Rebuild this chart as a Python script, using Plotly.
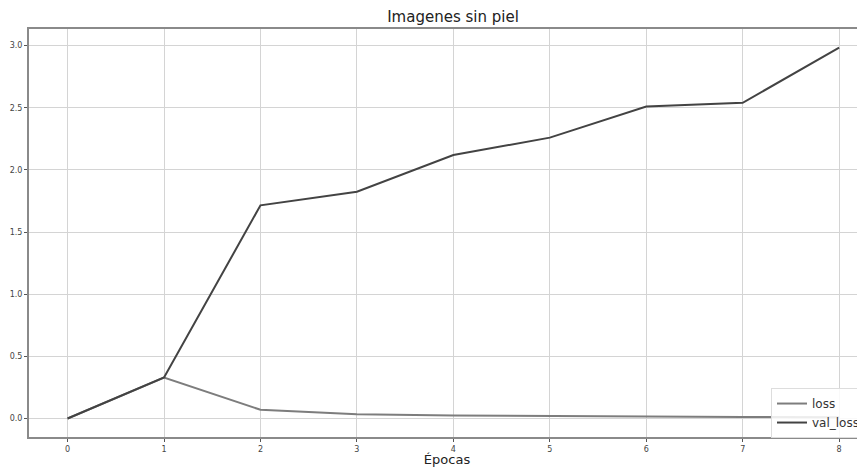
import plotly.graph_objects as go

epochs = [0, 1, 2, 3, 4, 5, 6, 7, 8]
loss = [0.0, 0.33, 0.07, 0.035, 0.025, 0.018, 0.015, 0.012, 0.01]
val_loss = [0.0, 0.33, 1.715, 1.825, 2.12, 2.26, 2.51, 2.54, 2.985]
x_ticks = [0, 1, 2, 3, 4, 5, 6, 7, 8]
y_ticks = [0.0, 0.5, 1.0, 1.5, 2.0, 2.5, 3.0]

# page body has an 8px default margin, so the figure is 857x459
W, H = 857, 459

fig = go.Figure()
fig.add_trace(go.Scatter(x=epochs, y=loss, mode="lines", name="loss",
                         line=dict(color="#7d7d7d", width=2)))
fig.add_trace(go.Scatter(x=epochs, y=val_loss, mode="lines", name="val_loss",
                         line=dict(color="#434343", width=2)))

fig.update_layout(
    width=W, height=H,
    margin=dict(l=21, r=0, t=21, b=30, autoexpand=False),
    paper_bgcolor="white", plot_bgcolor="white",
    font=dict(family="DejaVu Sans", color="#333333"),
    title=dict(text="Imagenes sin piel", x=445 / W, xanchor="center",
               y=1 - 9 / H, yanchor="middle", font=dict(size=15, color="#222222")),
    legend=dict(x=1.0, y=0.12, xanchor="right", yanchor="top",
                bgcolor="rgba(255,255,255,0.85)", bordercolor="#dddddd", borderwidth=1,
                font=dict(size=12, color="#333333"), tracegroupgap=0,
                itemwidth=30),
    showlegend=True,
)
fig.update_xaxes(range=[-0.4, 8.268], tickvals=x_ticks, ticktext=[str(v) for v in x_ticks],
                 showgrid=True, gridcolor="#d4d4d4", gridwidth=1,
                 showline=True, linecolor="#8a8a8a", linewidth=2, mirror=True,
                 ticks="outside", ticklen=3, tickcolor="#555555", automargin=False,
                 tickfont=dict(size=8, color="#444444"), zeroline=False,
                 title=dict(text="Épocas", font=dict(size=13, color="#222222"), standoff=2))
fig.update_yaxes(range=[-0.149, 3.134], tickvals=y_ticks, ticktext=[f"{v:.1f}" for v in y_ticks],
                 showgrid=True, gridcolor="#d4d4d4", gridwidth=1,
                 showline=True, linecolor="#8a8a8a", linewidth=2, mirror=False,
                 ticks="outside", ticklen=3, tickcolor="#555555", automargin=False,
                 tickfont=dict(size=8, color="#444444"), zeroline=False)

fig.write_html("out.html")
